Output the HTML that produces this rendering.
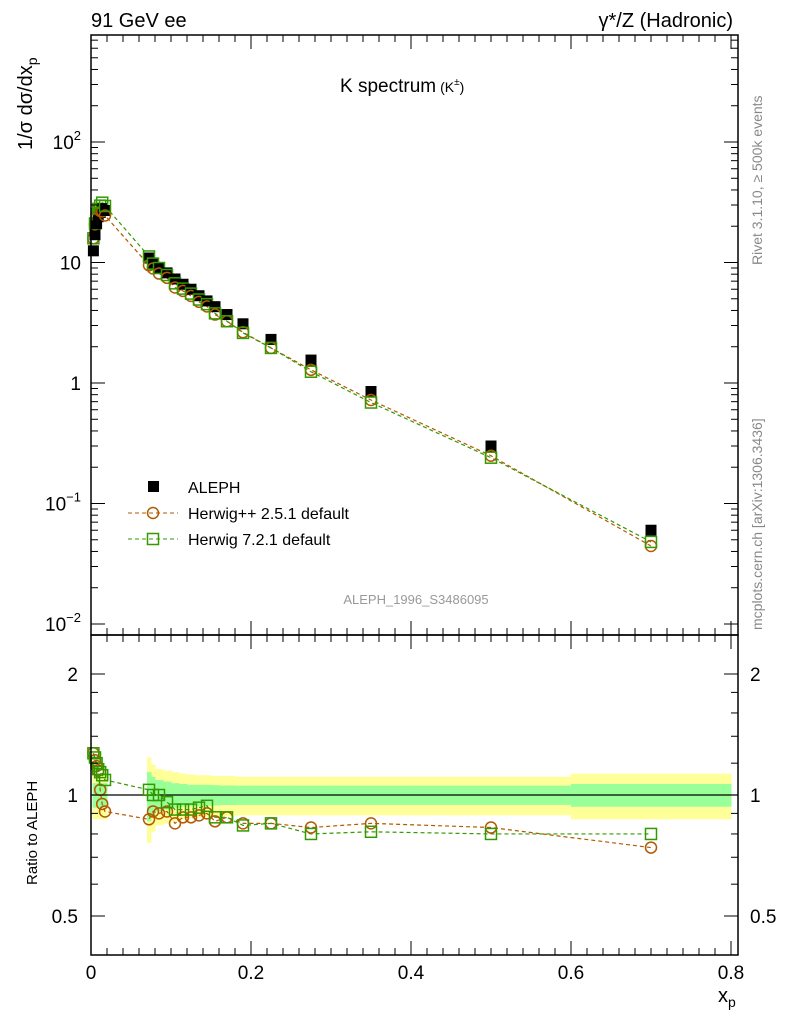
<!DOCTYPE html>
<html><head><meta charset="utf-8"><style>
body{margin:0;background:#fff;}
svg{display:block;font-family:"Liberation Sans",sans-serif;}
</style></head><body>
<svg id="c" width="786" height="1024" viewBox="0 0 786 1024">
<g id="bands"></g>
<g id="marks"></g>
<g id="axes"></g>
<text x="91" y="27" font-size="20">91 GeV ee</text>
<text x="733" y="27" font-size="20" text-anchor="end">γ*/Z (Hadronic)</text>
<text x="340" y="92" font-size="19">K spectrum<tspan font-size="14" dx="4">(K</tspan><tspan font-size="10" dy="-7">±</tspan><tspan font-size="14" dy="7">)</tspan></text>
<text x="416" y="604" font-size="13" fill="#999" text-anchor="middle">ALEPH_1996_S3486095</text>
<text transform="translate(762,265) rotate(-90)" font-size="14" fill="#888">Rivet 3.1.10, ≥ 500k events</text>
<text transform="translate(762,630) rotate(-90)" font-size="14" fill="#888">mcplots.cern.ch [arXiv:1306.3436]</text>
<text transform="translate(32,150) rotate(-90)" font-size="20">1/σ dσ/dx<tspan font-size="14" dy="5">p</tspan></text>
<text transform="translate(37,885) rotate(-90)" font-size="15">Ratio to ALEPH</text>
<text x="718" y="1002" font-size="20">x<tspan font-size="14" dy="5">p</tspan></text>
<g>
<rect x="148" y="481" width="11" height="11" fill="#000"/>
<text x="188" y="493" font-size="16">ALEPH</text>
<line x1="128" y1="513" x2="178" y2="513" stroke="#b35900" stroke-dasharray="4,3"/>
<circle cx="153" cy="513" r="5.5" fill="none" stroke="#b35900" stroke-width="1.5"/>
<text x="188" y="519" font-size="16">Herwig++ 2.5.1 default</text>
<line x1="128" y1="539" x2="178" y2="539" stroke="#339900" stroke-dasharray="4,3"/>
<rect x="147.5" y="533.5" width="11" height="11" fill="none" stroke="#339900" stroke-width="1.5"/>
<text x="188" y="545" font-size="16">Herwig 7.2.1 default</text>
</g>
</svg>
<script>
const xVals=[0.003,0.005,0.007,0.009,0.0115,0.014,0.0175,0.0725,0.0775,0.085,0.095,0.105,0.115,0.125,0.135,0.145,0.155,0.17,0.19,0.225,0.275,0.35,0.5,0.7];
const alephVals=[12.5,17,21,24,26,28,27,10.9,9.8,9.0,8.2,7.3,6.6,6.0,5.3,4.8,4.3,3.7,3.1,2.3,1.55,0.85,0.30,0.060];
const hppRatio=[1.27,1.22,1.18,1.15,1.03,0.95,0.91,0.87,0.91,0.90,0.91,0.85,0.88,0.88,0.89,0.9,0.86,0.88,0.85,0.85,0.83,0.85,0.83,0.74];
const h7Ratio=[1.27,1.24,1.2,1.16,1.14,1.12,1.09,1.03,1.0,1.0,0.96,0.92,0.92,0.92,0.93,0.94,0.88,0.88,0.84,0.85,0.80,0.81,0.80,0.80];
const statErr=[0.07,0.07,0.07,0.07,0.07,0.07,0.07,0.14,0.11,0.09,0.08,0.07,0.065,0.06,0.06,0.06,0.058,0.056,0.055,0.055,0.055,0.055,0.055,0.065];
const totErr=[0.13,0.13,0.13,0.13,0.13,0.13,0.13,0.24,0.19,0.16,0.15,0.14,0.13,0.125,0.12,0.12,0.115,0.115,0.11,0.11,0.11,0.11,0.11,0.13];
const binLo=[0.002,0.004,0.006,0.008,0.010,0.013,0.015,0.070,0.075,0.080,0.090,0.100,0.110,0.120,0.130,0.140,0.150,0.160,0.180,0.200,0.250,0.300,0.400,0.600];
const binHi=[0.004,0.006,0.008,0.010,0.013,0.015,0.020,0.075,0.080,0.090,0.100,0.110,0.120,0.130,0.140,0.150,0.160,0.180,0.200,0.250,0.300,0.400,0.600,0.800];
const topTicks=[0.01,0.1,1,10,100];
const topTickLabels=["10","10","1","10","10"];
const topTickExp=["−2","−1","","","2"];
const ratioTicks=[0.5,1,2];
const xTicks=[0,0.2,0.4,0.6,0.8];
const NS="http://www.w3.org/2000/svg";
const L=91,R=738,T1=35,B1=635,T2=635,B2=955;
const X=v=>L+v*800;
const Y1=v=>383-120.5*Math.log10(v);
const Y2=v=>795-121*Math.log2(v);
function mk(p,tag,a){const e=document.createElementNS(NS,tag);for(const k in a)e.setAttribute(k,a[k]);p.appendChild(e);return e;}
const bands=document.getElementById('bands'),marks=document.getElementById('marks'),axes=document.getElementById('axes');
function band(err,col,name){for(let i=0;i<xVals.length;i++){const x0=X(binLo[i]),x1=Math.min(X(binHi[i]),R);
 const r=mk(bands,'rect',{x:x0,y:Y2(1+err[i]),width:x1-x0+0.5,height:Y2(1-err[i])-Y2(1+err[i]),fill:col});
 
 }}
band(totErr,'#ffff99','total-uncertainty-band');
band(statErr,'#99ff99','stat-uncertainty-band');
mk(bands,'line',{x1:L,y1:Y2(1),x2:R,y2:Y2(1),stroke:'#000','stroke-width':1.3});
const hppVals=alephVals.map((v,i)=>v*hppRatio[i]);
const h7Vals=alephVals.map((v,i)=>v*h7Ratio[i]);
function line(vals,Y,col,name){const p=mk(marks,'polyline',{points:vals.map((v,i)=>X(xVals[i])+','+Y(v)).join(' '),fill:'none',stroke:col,'stroke-width':1.2,'stroke-dasharray':'4,3'});

}
line(hppVals,Y1,'#b35900','herwigpp-line');line(h7Vals,Y1,'#339900','herwig7-line');
line(hppRatio,Y2,'#b35900','herwigpp-ratio-line');line(h7Ratio,Y2,'#339900','herwig7-ratio-line');
xVals.forEach((x,i)=>{
 let a=mk(marks,'rect',{x:X(x)-5.5,y:Y1(alephVals[i])-5.5,width:11,height:11,fill:'#000'});
 
 
 let c=mk(marks,'circle',{cx:X(x),cy:Y1(hppVals[i]),r:5.5,fill:'none',stroke:'#b35900','stroke-width':1.5});
 
 
 let s=mk(marks,'rect',{x:X(x)-5.5,y:Y1(h7Vals[i])-5.5,width:11,height:11,fill:'none',stroke:'#339900','stroke-width':1.5});
 
 
 let c2=mk(marks,'circle',{cx:X(x),cy:Y2(hppRatio[i]),r:5.5,fill:'none',stroke:'#b35900','stroke-width':1.5});
 
 
 let s2=mk(marks,'rect',{x:X(x)-5.5,y:Y2(h7Ratio[i])-5.5,width:11,height:11,fill:'none',stroke:'#339900','stroke-width':1.5});
 
 
});
mk(axes,'rect',{x:L,y:T1,width:R-L,height:B1-T1,fill:'none',stroke:'#000','stroke-width':1.5});
mk(axes,'rect',{x:L,y:T2,width:R-L,height:B2-T2,fill:'none',stroke:'#000','stroke-width':1.5});
for(let e=-2;e<=2;e++){for(let m=1;m<10;m++){const v=m*Math.pow(10,e);const y=Y1(v);if(y<T1||y>B1)continue;const len=m===1?14:7;
 mk(axes,'line',{x1:L,y1:y,x2:L+len,y2:y,stroke:'#000'});mk(axes,'line',{x1:R,y1:y,x2:R-len,y2:y,stroke:'#000'});}}
topTicks.forEach((v,i)=>{const t=mk(axes,'text',{x:81,y:Y1(v)+7,'font-size':19,'text-anchor':'end'});t.textContent=topTickLabels[i];
 if(topTickExp[i]){const s=mk(t,'tspan',{dy:-9,'font-size':13});s.textContent=topTickExp[i];}});
[0.5,0.6,0.7,0.8,0.9,1,1.2,1.4,1.6,1.8,2].forEach(v=>{const y=Y2(v);const len=ratioTicks.includes(v)?14:7;
 mk(axes,'line',{x1:L,y1:y,x2:L+len,y2:y,stroke:'#000'});mk(axes,'line',{x1:R,y1:y,x2:R-len,y2:y,stroke:'#000'});});
ratioTicks.forEach(v=>{const t=mk(axes,'text',{x:78,y:Y2(v)+7,'font-size':19,'text-anchor':'end'});t.textContent=String(v);
 const t2=mk(axes,'text',{x:750,y:Y2(v)+7,'font-size':19});t2.textContent=String(v);});
for(let k=0;k<=40;k++){const v=k*0.02;const x=X(v);if(x>R)break;const len=k%10===0?14:7;
 mk(axes,'line',{x1:x,y1:B1,x2:x,y2:B1-len,stroke:'#000'});mk(axes,'line',{x1:x,y1:T1,x2:x,y2:T1+len,stroke:'#000'});
 mk(axes,'line',{x1:x,y1:B2,x2:x,y2:B2-len,stroke:'#000'});mk(axes,'line',{x1:x,y1:T2,x2:x,y2:T2+len,stroke:'#000'});}
xTicks.forEach(v=>{const t=mk(axes,'text',{x:X(v),y:979,'font-size':19,'text-anchor':'middle'});t.textContent=String(v);});
</script>
</body></html>
